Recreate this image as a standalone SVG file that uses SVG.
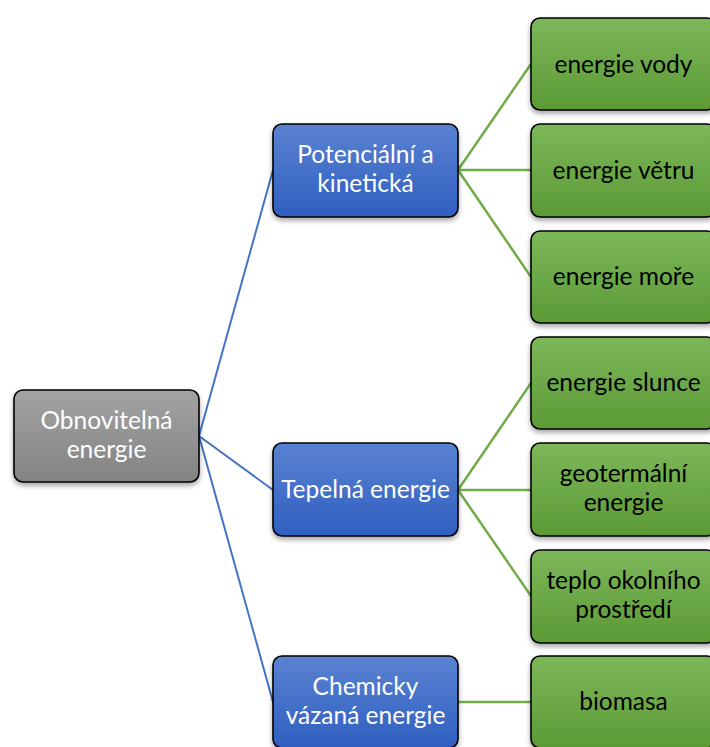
<svg xmlns="http://www.w3.org/2000/svg" width="710" height="747" viewBox="0 0 710 747">
<defs>
<linearGradient id="gGray" x1="0" y1="0" x2="0" y2="1"><stop offset="0" stop-color="#a3a3a3"/><stop offset="1" stop-color="#838383"/></linearGradient>
<linearGradient id="gBlue" x1="0" y1="0" x2="0" y2="1"><stop offset="0" stop-color="#5a82d2"/><stop offset="1" stop-color="#2f5fbf"/></linearGradient>
<linearGradient id="gGreen" x1="0" y1="0" x2="0" y2="1"><stop offset="0" stop-color="#7cb75a"/><stop offset="1" stop-color="#5c9a35"/></linearGradient>
<filter id="sh" x="-10%" y="-10%" width="120%" height="130%"><feDropShadow dx="0" dy="3" stdDeviation="2.5" flood-color="#000" flood-opacity="0.35"/></filter>
</defs>
<style>
.box{stroke:#000;stroke-width:1.6;filter:url(#sh)}
.gray{fill:url(#gGray)}
.blue{fill:url(#gBlue)}
.green{fill:url(#gGreen)}
text{font-family:Lato,"Open Sans","Liberation Sans",sans-serif;font-size:24.5px;text-anchor:middle}
.w{fill:#fff}
.k{fill:#000}
.cb{stroke:#4472c4;stroke-width:2;fill:none}
.cg{stroke:#70ad47;stroke-width:2.5;fill:none}
</style>
<g id="connectors">
<line class="cb" x1="199" y1="436" x2="273" y2="170"/>
<line class="cb" x1="199" y1="436" x2="273" y2="490"/>
<line class="cb" x1="199" y1="436" x2="273" y2="702"/>
<line class="cg" x1="458" y1="170" x2="531" y2="64"/>
<line class="cg" x1="458" y1="170" x2="531" y2="170"/>
<line class="cg" x1="458" y1="170" x2="531" y2="277"/>
<line class="cg" x1="458" y1="490" x2="531" y2="383"/>
<line class="cg" x1="458" y1="490" x2="531" y2="490"/>
<line class="cg" x1="458" y1="490" x2="531" y2="596"/>
<line class="cg" x1="458" y1="702" x2="531" y2="702"/>
</g>
<g id="root">
<rect class="box gray" x="14" y="390" width="185" height="92" rx="9"/>
<text class="w" x="106.5" y="429">Obnovitelná</text>
<text class="w" x="106.5" y="458">energie</text>
</g>
<g id="potencialni">
<rect class="box blue" x="273" y="124" width="185" height="93" rx="9"/>
<text class="w" x="365.5" y="163">Potenciální a</text>
<text class="w" x="365.5" y="192">kinetická</text>
</g>
<g id="tepelna">
<rect class="box blue" x="273" y="443" width="185" height="93" rx="9"/>
<text class="w" x="365.5" y="498">Tepelná energie</text>
</g>
<g id="chemicky">
<rect class="box blue" x="273" y="656" width="185" height="92" rx="9"/>
<text class="w" x="365.5" y="695">Chemicky</text>
<text class="w" x="365.5" y="724">vázaná energie</text>
</g>
<g id="vody">
<rect class="box green" x="531" y="18" width="185" height="92" rx="9"/>
<text class="k" x="623.5" y="73">energie vody</text>
</g>
<g id="vetru">
<rect class="box green" x="531" y="124" width="185" height="93" rx="9"/>
<text class="k" x="623.5" y="179">energie větru</text>
</g>
<g id="more">
<rect class="box green" x="531" y="231" width="185" height="92" rx="9"/>
<text class="k" x="623.5" y="285">energie moře</text>
</g>
<g id="slunce">
<rect class="box green" x="531" y="337" width="185" height="92" rx="9"/>
<text class="k" x="623.5" y="391">energie slunce</text>
</g>
<g id="geotermalni">
<rect class="box green" x="531" y="443" width="185" height="93" rx="9"/>
<text class="k" x="623.5" y="482">geotermální</text>
<text class="k" x="623.5" y="511">energie</text>
</g>
<g id="teplo">
<rect class="box green" x="531" y="550" width="185" height="93" rx="9"/>
<text class="k" x="623.5" y="589">teplo okolního</text>
<text class="k" x="623.5" y="618">prostředí</text>
</g>
<g id="biomasa">
<rect class="box green" x="531" y="656" width="185" height="92" rx="9"/>
<text class="k" x="623.5" y="710">biomasa</text>
</g>
</svg>
